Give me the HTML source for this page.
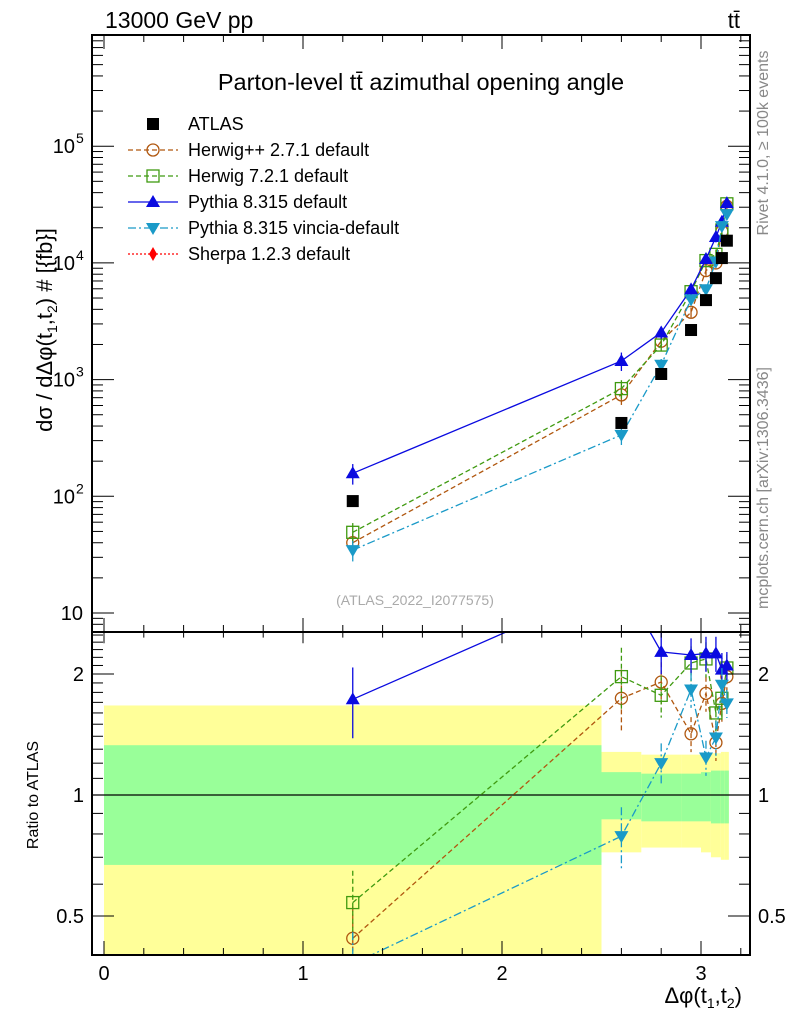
<!DOCTYPE html>
<html><head><meta charset="utf-8"><style>
html,body{margin:0;padding:0;background:#fff}
svg{display:block;font-family:"Liberation Sans",sans-serif}
</style></head><body>
<svg id="c" width="786" height="1024" viewBox="0 0 786 1024" xmlns="http://www.w3.org/2000/svg">
<defs>
<clipPath id="cm"><rect x="92" y="35" width="658" height="597"/></clipPath>
<clipPath id="cr"><rect x="92" y="633" width="658" height="322"/></clipPath>
</defs>
<g id="bands" clip-path="url(#cr)"></g>
<g id="mainMarks" clip-path="url(#cm)"></g>
<g id="ratioMarks" clip-path="url(#cr)"></g>
<g id="axes"></g>
<g id="legend"></g>
<text x="105" y="28" font-size="23">13000 GeV pp</text>
<text x="740" y="28" font-size="22" text-anchor="end">tt̄</text>
<text x="421" y="90" font-size="23.5" text-anchor="middle">Parton-level tt̄ azimuthal opening angle</text>
<text x="415" y="605" font-size="14" fill="#aaa" text-anchor="middle">(ATLAS_2022_I2077575)</text>
<text transform="translate(768,143) rotate(-90)" font-size="16" fill="#888" text-anchor="middle">Rivet 4.1.0, ≥ 100k events</text>
<text transform="translate(768,488) rotate(-90)" font-size="16" fill="#888" text-anchor="middle">mcplots.cern.ch [arXiv:1306.3436]</text>
<text transform="translate(52,330) rotate(-90)" font-size="22" text-anchor="middle">dσ / dΔφ(t<tspan font-size="14" dy="5">1</tspan><tspan dy="-5">,t</tspan><tspan font-size="14" dy="5">2</tspan><tspan dy="-5">) # [{fb}]</tspan></text>
<text transform="translate(38,795) rotate(-90)" font-size="16" text-anchor="middle">Ratio to ATLAS</text>
<text x="742" y="1003" font-size="22" text-anchor="end">Δφ(t<tspan font-size="14" dy="5">1</tspan><tspan dy="-5">,t</tspan><tspan font-size="14" dy="5">2</tspan><tspan dy="-5">)</tspan></text>
</svg>
<script>
const xs = [1.25, 2.6, 2.8, 2.95, 3.025, 3.075, 3.105, 3.13];
const binLo = [0, 2.5, 2.7, 2.9, 3.0, 3.05, 3.1, 3.12];
const binHi = [2.5, 2.7, 2.9, 3.0, 3.05, 3.1, 3.12, 3.14];
const atlas = [91, 425, 1117, 2660, 4800, 7400, 11000, 15500];
const ratioHerwigPP = [0.44, 1.74, 1.91, 1.42, 1.79, 1.35, 1.69, 1.97];
const ratioHerwig7 = [0.54, 1.97, 1.77, 2.13, 2.18, 1.6, 1.74, 2.07];
const ratioPythia = [1.73, 3.4, 2.27, 2.23, 2.25, 2.25, 2.05, 2.1];
const ratioVincia = [0.38, 0.79, 1.2, 1.83, 1.24, 1.39, 1.88, 1.69];
const relErr = [0.2, 0.18, 0.12, 0.1, 0.1, 0.1, 0.1, 0.08];
const bandYelHi = [1.67, 1.28, 1.26, 1.26, 1.25, 1.27, 1.28, 1.28];
const bandGrnHi = [1.33, 1.14, 1.13, 1.13, 1.14, 1.15, 1.15, 1.15];
const bandGrnLo = [0.67, 0.87, 0.86, 0.86, 0.86, 0.85, 0.85, 0.85];
const bandYelLo = [0.3, 0.72, 0.74, 0.74, 0.72, 0.70, 0.69, 0.69];
const xTicks = [0, 1, 2, 3];
const mainTicks = [1, 2, 3, 4, 5];
const ratioTicks = [0.5, 1, 2];

const NS = "http://www.w3.org/2000/svg";
const X = v => 104 + v * 199;
const YM = v => 613 - (Math.log10(v) - 1) * 116.7;
const YR = v => 795 - Math.log10(v) * 402;
function mk(tag, attrs, parent) {
  const e = document.createElementNS(NS, tag);
  for (const k in attrs) e.setAttribute(k, attrs[k]);
  parent.appendChild(e);
  return e;
}
const axes = document.getElementById('axes');
const bands = document.getElementById('bands');
const mainG = document.getElementById('mainMarks');
const ratioG = document.getElementById('ratioMarks');
const legend = document.getElementById('legend');

for (let i = 0; i < binLo.length; i++) {
  const x0 = X(binLo[i]), x1 = X(binHi[i]);
  const y = mk('rect', {x: x0, y: YR(bandYelHi[i]), width: x1 - x0, height: YR(bandYelLo[i]) - YR(bandYelHi[i]), fill: '#ffff99'}, bands);
  
  
  const g = mk('rect', {x: x0, y: YR(bandGrnHi[i]), width: x1 - x0, height: YR(bandGrnLo[i]) - YR(bandGrnHi[i]), fill: '#99ff99'}, bands);
  
  
}
const one = mk('line', {x1: 92, x2: 750, y1: YR(1), y2: YR(1), stroke: '#000', 'stroke-width': 1.2}, ratioG);



function marker(type, x, y, color, parent) {
  let e;
  if (type === 'sq') e = mk('rect', {x: x - 6, y: y - 6, width: 12, height: 12, fill: '#000'}, parent);
  else if (type === 'circ') e = mk('circle', {cx: x, cy: y, r: 6, fill: 'none', stroke: color, 'stroke-width': 1.3}, parent);
  else if (type === 'osq') e = mk('rect', {x: x - 6, y: y - 6, width: 12, height: 12, fill: 'none', stroke: color, 'stroke-width': 1.3}, parent);
  else if (type === 'up') e = mk('polygon', {points: `${x},${y-7} ${x-7},${y+5} ${x+7},${y+5}`, fill: color}, parent);
  else if (type === 'down') e = mk('polygon', {points: `${x},${y+7} ${x-7},${y-5} ${x+7},${y-5}`, fill: color}, parent);
  else if (type === 'dia') e = mk('polygon', {points: `${x},${y-7} ${x-4},${y} ${x},${y+7} ${x+4},${y}`, fill: color}, parent);
  return e;
}

const series = [
  {name: 'herwigpp', r: ratioHerwigPP, color: '#b0570f', dash: '5,3', m: 'circ'},
  {name: 'herwig7', r: ratioHerwig7, color: '#3f9a10', dash: '5,3', m: 'osq'},
  {name: 'pythia', r: ratioPythia, color: '#0a0ae0', dash: '', m: 'up'},
  {name: 'vincia', r: ratioVincia, color: '#1a9ac8', dash: '8,3,2,3', m: 'down'}
];
series.forEach(s => {
  const mainPts = xs.map((x, i) => `${X(x)},${YM(atlas[i] * s.r[i])}`).join(' ');
  const pl = mk('polyline', {points: mainPts, fill: 'none', stroke: s.color, 'stroke-width': 1.3, 'stroke-dasharray': s.dash}, mainG);
  
  
  const rPts = xs.map((x, i) => `${X(x)},${YR(s.r[i])}`).join(' ');
  const rl = mk('polyline', {points: rPts, fill: 'none', stroke: s.color, 'stroke-width': 1.3, 'stroke-dasharray': s.dash}, ratioG);
  
  
  xs.forEach((x, i) => {
    const v = atlas[i] * s.r[i], e = relErr[i];
    const eb = mk('line', {x1: X(x), x2: X(x), y1: YM(v * (1 + e)), y2: YM(v * (1 - e)), stroke: s.color, 'stroke-width': 1.3}, mainG);
    
    
    const m = marker(s.m, X(x), YM(v), s.color, mainG);
    
    
    const er = mk('line', {x1: X(x), x2: X(x), y1: YR(s.r[i] * (1 + e)), y2: YR(s.r[i] * (1 - e)), stroke: s.color, 'stroke-width': 1.3, 'stroke-dasharray': s.dash}, ratioG);
    
    
    const mr = marker(s.m, X(x), YR(s.r[i]), s.color, ratioG);
    
    
  });
});
xs.forEach((x, i) => {
  const m = marker('sq', X(x), YM(atlas[i]), '#000', mainG);
  
  
});

[[35, 632], [632, 955]].forEach(([t, b]) => {
  const r = mk('rect', {x: 92, y: t, width: 658, height: b - t, fill: 'none', stroke: '#000', 'stroke-width': 2}, axes);
  
  
});
function tick(x1, y1, x2, y2) {
  const l = mk('line', {x1, y1, x2, y2, stroke: '#000', 'stroke-width': 1}, axes);
  
  
}
function label(x, y, txt, anchor, size, name) {
  const t = mk('text', {x, y, 'font-size': size, 'text-anchor': anchor}, axes);
  t.textContent = txt;
  
  
  return t;
}
for (let k = -5; k <= 16; k++) {
  const v = k * 0.2, x = X(v);
  if (x < 93 || x > 749) continue;
  const major = Math.abs(v - Math.round(v)) < 1e-6;
  const L = major ? 14 : 7;
  tick(x, 35, x, 35 + L); tick(x, 632, x, 632 - L); tick(x, 632, x, 632 + L * 0.8); tick(x, 955, x, 955 - L);
}
xTicks.forEach(v => label(X(v), 980, String(v), 'middle', 20, 'x-tick-label'));
for (let d = 0; d <= 5; d++) for (let m = 1; m <= 9; m++) {
  const v = m * Math.pow(10, d), y = YM(v);
  if (y < 36 || y > 631) continue;
  const L = m === 1 ? 22 : 11;
  tick(92, y, 92 + L, y); tick(750, y, 750 - L, y);
}
mainTicks.forEach(d => {
  const y = YM(Math.pow(10, d));
  if (d === 1) label(83, y + 7, '10', 'end', 20, 'y-tick-label');
  else {
    label(75, y + 7, '10', 'end', 20, 'y-tick-label');
    const s = mk('text', {x: 76, y: y - 3, 'font-size': 14}, axes);
    s.textContent = String(d);
    
    
  }
});
[0.4,0.5,0.6,0.7,0.8,0.9,1,1.1,1.2,1.3,1.4,1.5,1.6,1.7,1.8,1.9,2,2.1,2.2,2.3,2.4,2.5].forEach(v => {
  const y = YR(v);
  if (y < 634 || y > 954) return;
  const L = ratioTicks.includes(v) ? 22 : 11;
  tick(92, y, 92 + L, y); tick(750, y, 750 - L, y);
});
ratioTicks.forEach(v => {
  label(84, YR(v) + 7, String(v), 'end', 20, 'ratio-tick-label');
  label(758, YR(v) + 7, String(v), 'start', 20, 'ratio-tick-label-right');
});

const leg = [
  {t: 'ATLAS', m: 'sq', c: '#000', d: null},
  {t: 'Herwig++ 2.7.1 default', m: 'circ', c: '#b0570f', d: '5,3'},
  {t: 'Herwig 7.2.1 default', m: 'osq', c: '#3f9a10', d: '5,3'},
  {t: 'Pythia 8.315 default', m: 'up', c: '#0a0ae0', d: ''},
  {t: 'Pythia 8.315 vincia-default', m: 'down', c: '#1a9ac8', d: '8,3,2,3'},
  {t: 'Sherpa 1.2.3 default', m: 'dia', c: '#ff0000', d: '2,2'}
];
leg.forEach((e, i) => {
  const y = 124 + i * 26;
  const g = mk('g', {}, legend);
  
  
  if (e.d !== null) mk('line', {x1: 128, x2: 178, y1: y, y2: y, stroke: e.c, 'stroke-width': 1.3, 'stroke-dasharray': e.d}, g);
  marker(e.m, 153, y, e.c, g);
  const t = mk('text', {x: 188, y: y + 6, 'font-size': 18}, g);
  t.textContent = e.t;
});
</script>
</body></html>
